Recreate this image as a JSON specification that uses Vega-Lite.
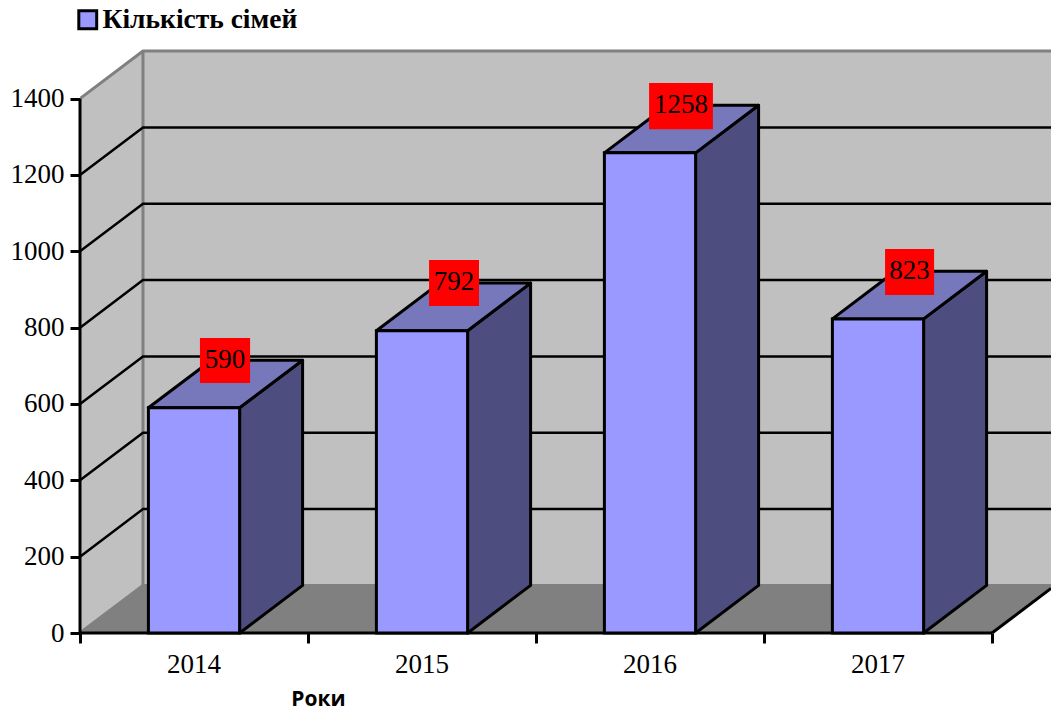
{"$schema":"https://vega.github.io/schema/vega-lite/v6.json","autosize":{"type":"none"},"padding":{"left":80,"top":0,"right":0,"bottom":78},"width":971,"height":633,"background":"white","config":{"view":{"stroke":null}},
"layer":[
{"data":{"values":[{"wall":"back","x":0.2763,"lo":124.7,"hi":1526},{"wall":"back","x":4.2588,"lo":124.7,"hi":1526},{"wall":"left","x":0,"lo":0,"hi":1400},{"wall":"left","x":0.2763,"lo":124.7,"hi":1526}]},"mark":{"type":"area","color":"#c0c0c0","clip":true},"encoding":{"detail":{"field":"wall"},"x":{"field":"x","type":"quantitative","scale":{"domain":[0,4.2588],"nice":false,"zero":false},"title":"Роки","axis":{"values":[0,1,2,3,4],"labels":false,"grid":false,"domain":false,"tickColor":"black","tickWidth":3,"tickSize":10,"title":"Роки","titleFont":"Open Sans","titleFontWeight":"bold","titleFontSize":21,"titleColor":"black","titleX":238,"titleY":66,"titleBaseline":"middle"}},"y":{"field":"lo","type":"quantitative","stack":null,"scale":{"domain":[0,1658.5],"nice":false,"zero":false},"title":null,"axis":{"values":[0,200,400,600,800,1000,1200,1400],"format":"d","grid":false,"domain":false,"title":null,"tickColor":"black","tickWidth":3,"tickSize":10,"labelPadding":6,"labelFont":"Liberation Serif","labelFontSize":27,"labelColor":"black"}},"y2":{"field":"hi"}}},
{"data":{"values":[{"y":0,"x0":0,"x1":4},{"y":124.7,"x0":0.2763,"x1":4.2763}]},"mark":{"type":"area","color":"#808080","clip":true,"orient":"horizontal"},"encoding":{"y":{"field":"y","type":"quantitative","stack":null},"x":{"field":"x0","type":"quantitative"},"x2":{"field":"x1"}}},
{"data":{"values":[{"id":"a","x":0,"y":1400},{"id":"a","x":0.2763,"y":1524.7},{"id":"a","x":4.2588,"y":1524.7},{"id":"b","x":0.2763,"y":1524.7},{"id":"b","x":0.2763,"y":124.7},{"id":"b","x":4.2588,"y":124.7},{"id":"c","x":0,"y":0},{"id":"c","x":0.2763,"y":124.7}]},"mark":{"type":"line","color":"#808080","strokeWidth":3,"clip":true},"encoding":{"detail":{"field":"id"},"order":{"value":0},"x":{"field":"x","type":"quantitative"},"y":{"field":"y","type":"quantitative"}}},
{"data":{"values":[{"v":200,"s":0,"x":0,"y":200},{"v":200,"s":1,"x":0.2763,"y":324.7},{"v":200,"s":2,"x":4.2588,"y":324.7},{"v":400,"s":0,"x":0,"y":400},{"v":400,"s":1,"x":0.2763,"y":524.7},{"v":400,"s":2,"x":4.2588,"y":524.7},{"v":600,"s":0,"x":0,"y":600},{"v":600,"s":1,"x":0.2763,"y":724.7},{"v":600,"s":2,"x":4.2588,"y":724.7},{"v":800,"s":0,"x":0,"y":800},{"v":800,"s":1,"x":0.2763,"y":924.7},{"v":800,"s":2,"x":4.2588,"y":924.7},{"v":1000,"s":0,"x":0,"y":1000},{"v":1000,"s":1,"x":0.2763,"y":1124.7},{"v":1000,"s":2,"x":4.2588,"y":1124.7},{"v":1200,"s":0,"x":0,"y":1200},{"v":1200,"s":1,"x":0.2763,"y":1324.7},{"v":1200,"s":2,"x":4.2588,"y":1324.7}]},"mark":{"type":"line","color":"black","strokeWidth":2.5},"encoding":{"detail":{"field":"v"},"order":{"field":"s"},"x":{"field":"x","type":"quantitative"},"y":{"field":"y","type":"quantitative"}}},
{"data":{"values":[{"id":"yaxis","s":0,"x":0,"y":0},{"id":"yaxis","s":1,"x":0,"y":1400},{"id":"xaxis","s":0,"x":0,"y":0},{"id":"xaxis","s":1,"x":4,"y":0},{"id":"floor","s":0,"x":4,"y":0},{"id":"floor","s":1,"x":4.2588,"y":116.8}]},"mark":{"type":"line","color":"black","strokeWidth":3},"encoding":{"detail":{"field":"id"},"order":{"field":"s"},"x":{"field":"x","type":"quantitative"},"y":{"field":"y","type":"quantitative"}}},
{"data":{"values":[{"year":"2014","s":0,"x":0.7,"lo":0,"hi":590},{"year":"2014","s":1,"x":0.9763,"lo":124.7,"hi":714.7},{"year":"2015","s":0,"x":1.7,"lo":0,"hi":792},{"year":"2015","s":1,"x":1.9763,"lo":124.7,"hi":916.7},{"year":"2016","s":0,"x":2.7,"lo":0,"hi":1258},{"year":"2016","s":1,"x":2.9763,"lo":124.7,"hi":1382.7},{"year":"2017","s":0,"x":3.7,"lo":0,"hi":823},{"year":"2017","s":1,"x":3.9763,"lo":124.7,"hi":947.7}]},"mark":{"type":"area","color":"#4d4d7f","stroke":"black","strokeWidth":3,"strokeJoin":"round"},"encoding":{"detail":{"field":"year"},"x":{"field":"x","type":"quantitative"},"y":{"field":"lo","type":"quantitative","stack":null},"y2":{"field":"hi"}}},
{"data":{"values":[{"year":"2014","y":590,"x0":0.3,"x1":0.7},{"year":"2014","y":714.7,"x0":0.5763,"x1":0.9763},{"year":"2015","y":792,"x0":1.3,"x1":1.7},{"year":"2015","y":916.7,"x0":1.5763,"x1":1.9763},{"year":"2016","y":1258,"x0":2.3,"x1":2.7},{"year":"2016","y":1382.7,"x0":2.5763,"x1":2.9763},{"year":"2017","y":823,"x0":3.3,"x1":3.7},{"year":"2017","y":947.7,"x0":3.5763,"x1":3.9763}]},"mark":{"type":"area","color":"#7777bb","stroke":"black","strokeWidth":3,"strokeJoin":"round","orient":"horizontal"},"encoding":{"detail":{"field":"year"},"y":{"field":"y","type":"quantitative","stack":null},"x":{"field":"x0","type":"quantitative"},"x2":{"field":"x1"}}},
{"data":{"values":[{"year":"2014","series":"Кількість сімей","x0":0.3,"x1":0.7,"value":590},{"year":"2015","series":"Кількість сімей","x0":1.3,"x1":1.7,"value":792},{"year":"2016","series":"Кількість сімей","x0":2.3,"x1":2.7,"value":1258},{"year":"2017","series":"Кількість сімей","x0":3.3,"x1":3.7,"value":823}]},"mark":{"type":"rect","stroke":"black","strokeWidth":3},"encoding":{"x":{"field":"x0","type":"quantitative"},"x2":{"field":"x1"},"y":{"field":"value","type":"quantitative"},"y2":{"datum":0},"fill":{"field":"series","type":"nominal","scale":{"range":["#9999ff"]},"legend":{"orient":"none","legendX":-6,"legendY":6,"title":null,"symbolType":"square","symbolSize":320,"symbolStrokeColor":"black","symbolStrokeWidth":3,"symbolOpacity":1,"labelFont":"Liberation Serif","labelFontWeight":"bold","labelFontSize":27.5,"labelColor":"black","labelOffset":1,"labelLimit":400}}}},
{"data":{"values":[{"value":590,"x0":0.526,"x1":0.746,"y0":655,"y1":773,"cx":0.636,"cy":716},{"value":792,"x0":1.531,"x1":1.75,"y0":857,"y1":977,"cx":1.64,"cy":919},{"value":1258,"x0":2.496,"x1":2.776,"y0":1320,"y1":1441,"cx":2.636,"cy":1383},{"value":823,"x0":3.531,"x1":3.746,"y0":885.5,"y1":1006,"cx":3.638,"cy":948}]},"layer":[{"mark":{"type":"rect","color":"#ff0000"},"encoding":{"x":{"field":"x0","type":"quantitative"},"x2":{"field":"x1"},"y":{"field":"y0","type":"quantitative"},"y2":{"field":"y1"}}},{"mark":{"type":"text","font":"Liberation Serif","fontSize":27,"color":"black","align":"center","baseline":"middle"},"encoding":{"x":{"field":"cx","type":"quantitative"},"y":{"field":"cy","type":"quantitative"},"text":{"field":"value","type":"nominal"}}}]},
{"data":{"values":[{"year":"2014","pos":0.5},{"year":"2015","pos":1.5},{"year":"2016","pos":2.5},{"year":"2017","pos":3.5}]},"mark":{"type":"text","font":"Liberation Serif","fontSize":27,"color":"black","align":"center","baseline":"middle","dy":32,"clip":false},"encoding":{"x":{"field":"pos","type":"quantitative"},"y":{"datum":0},"text":{"field":"year","type":"nominal"}}}
]}
